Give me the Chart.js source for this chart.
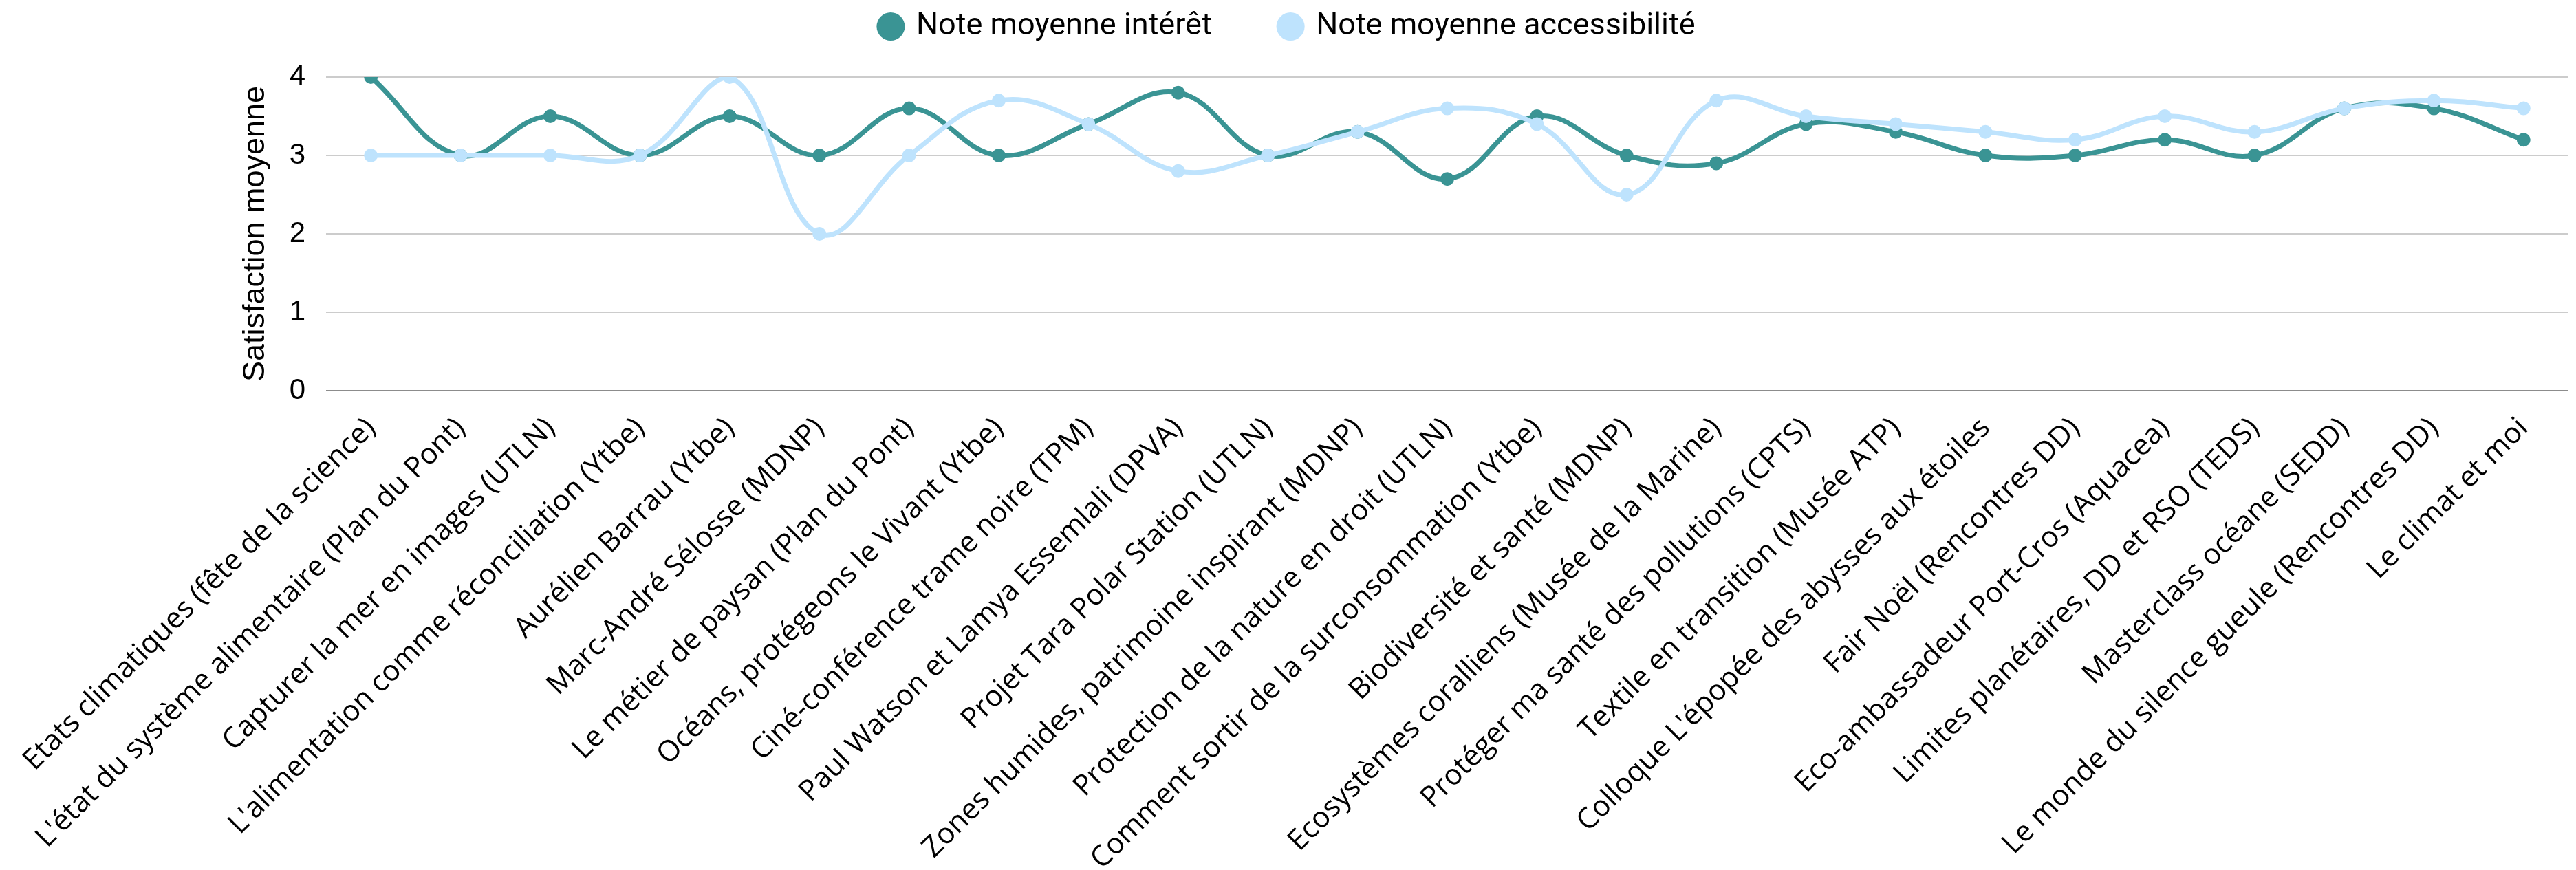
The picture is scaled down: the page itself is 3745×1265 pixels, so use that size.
<!DOCTYPE html>
<html lang="fr">
<head>
<meta charset="utf-8">
<title>Satisfaction moyenne</title>
<script src="https://cdn.jsdelivr.net/npm/chart.js@4.4.0/dist/chart.umd.min.js"></script>
<style>
  html, body { margin: 0; padding: 0; background: #ffffff; }
  canvas { display: block; }
</style>
</head>
<body>
<canvas id="chart" width="3745" height="1265"></canvas>
<script>
// --- data ---
const categories = [
  'Etats climatiques (fête de la science)',
  "L'état du système alimentaire (Plan du Pont)",
  'Capturer la mer en images (UTLN)',
  "L'alimentation comme réconciliation (Ytbe)",
  'Aurélien Barrau (Ytbe)',
  'Marc-André Sélosse (MDNP)',
  'Le métier de paysan (Plan du Pont)',
  'Océans, protégeons le Vivant (Ytbe)',
  'Ciné-conférence trame noire (TPM)',
  'Paul Watson et Lamya Essemlali (DPVA)',
  'Projet Tara Polar Station (UTLN)',
  'Zones humides, patrimoine inspirant (MDNP)',
  'Protection de la nature en droit (UTLN)',
  'Comment sortir de la surconsommation (Ytbe)',
  'Biodiversité et santé (MDNP)',
  'Ecosystèmes coralliens (Musée de la Marine)',
  'Protéger ma santé des pollutions (CPTS)',
  'Textile en transition (Musée ATP)',
  "Colloque L'épopée des abysses aux étoiles",
  'Fair Noël (Rencontres DD)',
  'Eco-ambassadeur Port-Cros (Aquacea)',
  'Limites planétaires, DD et RSO (TEDS)',
  'Masterclass océane (SEDD)',
  'Le monde du silence gueule (Rencontres DD)',
  'Le climat et moi'
];
const noteInteret = [4, 3, 3.5, 3, 3.5, 3, 3.6, 3, 3.4, 3.8, 3, 3.3, 2.7, 3.5, 3, 2.9, 3.4, 3.3, 3, 3, 3.2, 3, 3.6, 3.6, 3.2];
const noteAccessibilite = [3, 3, 3, 3, 4, 2, 3, 3.7, 3.4, 2.8, 3, 3.3, 3.6, 3.4, 2.5, 3.7, 3.5, 3.4, 3.3, 3.2, 3.5, 3.3, 3.6, 3.7, 3.6];
const seriesNames = ['Note moyenne intérêt', 'Note moyenne accessibilité'];
const yTicks = [0, 1, 2, 3, 4];
const yTitle = 'Satisfaction moyenne';

const teal = '#3a9494';
const lightBlue = '#bee3fd';

// legend sits higher than Chart.js would put it, with a wide gap between items
const legendBox = {
  id: 'legendBox',
  beforeInit(chart) {
    const fit = chart.legend.fit;
    chart.legend.fit = function () {
      fit.call(this);
      this.height = 196;
    };
  }
};

function draw() {
  const ctx = document.getElementById('chart').getContext('2d');
  new Chart(ctx, {
    type: 'line',
    data: {
      labels: categories,
      datasets: [
        {
          label: seriesNames[0],
          data: noteInteret,
          borderColor: teal,
          backgroundColor: teal,
          pointBackgroundColor: teal,
          pointBorderColor: teal,
          borderWidth: 7,
          pointRadius: 9,
          pointBorderWidth: 2,
          tension: 0.4,
          order: 1
        },
        {
          label: seriesNames[1],
          data: noteAccessibilite,
          borderColor: lightBlue,
          backgroundColor: lightBlue,
          pointBackgroundColor: lightBlue,
          pointBorderColor: lightBlue,
          borderWidth: 7,
          pointRadius: 9,
          pointBorderWidth: 2,
          tension: 0.4,
          order: 0
        }
      ]
    },
    options: {
      responsive: false,
      animation: false,
      devicePixelRatio: 1,
      layout: { padding: { top: -84, left: 0, right: 0, bottom: 0 } },
      plugins: {
        legend: {
          position: 'top',
          labels: {
            usePointStyle: true,
            pointStyle: 'circle',
            boxWidth: 29,
            boxHeight: 29,
            padding: 100,
            color: '#000000',
            font: { family: 'Roboto', size: 45 },
            sort: (a, b) => a.datasetIndex - b.datasetIndex,
            generateLabels: chart =>
              Chart.defaults.plugins.legend.labels.generateLabels(chart).map(item => ({ ...item, lineWidth: 0 }))
          }
        },
        tooltip: { enabled: false }
      },
      scales: {
        x: {
          offset: true,
          grid: { display: false },
          border: { display: false },
          ticks: {
            autoSkip: false,
            maxRotation: 45,
            minRotation: 45,
            padding: 22,
            color: '#000000',
            font: { family: '"Open Sans"', size: 42 }
          },
          afterFit(scale) {
            scale.height = 697;
            scale.paddingLeft = 0;
            scale.paddingRight = 0;
          }
        },
        y: {
          min: 0,
          max: 4,
          afterBuildTicks(scale) {
            scale.ticks = yTicks.map(v => ({ value: v }));
          },
          grid: {
            drawTicks: false,
            lineWidth: 2,
            color: c => (c.tick && c.tick.value === 0 ? '#8c8c8c' : '#cccccc')
          },
          border: { display: false },
          ticks: {
            padding: 30,
            color: '#000000',
            font: { family: '"Liberation Sans"', size: 42 }
          },
          title: {
            display: true,
            text: yTitle,
            color: '#000000',
            font: { family: '"Liberation Sans"', size: 45 },
            padding: { top: 345, bottom: 0 }
          },
          afterFit(scale) {
            scale.width = 474;
          }
        }
      }
    },
    plugins: [legendBox]
  });
}

Promise.all([
  document.fonts.load('42px "Open Sans"'),
  document.fonts.load('45px Roboto'),
  document.fonts.load('42px "Liberation Sans"')
]).then(draw, draw);
</script>
</body>
</html>
